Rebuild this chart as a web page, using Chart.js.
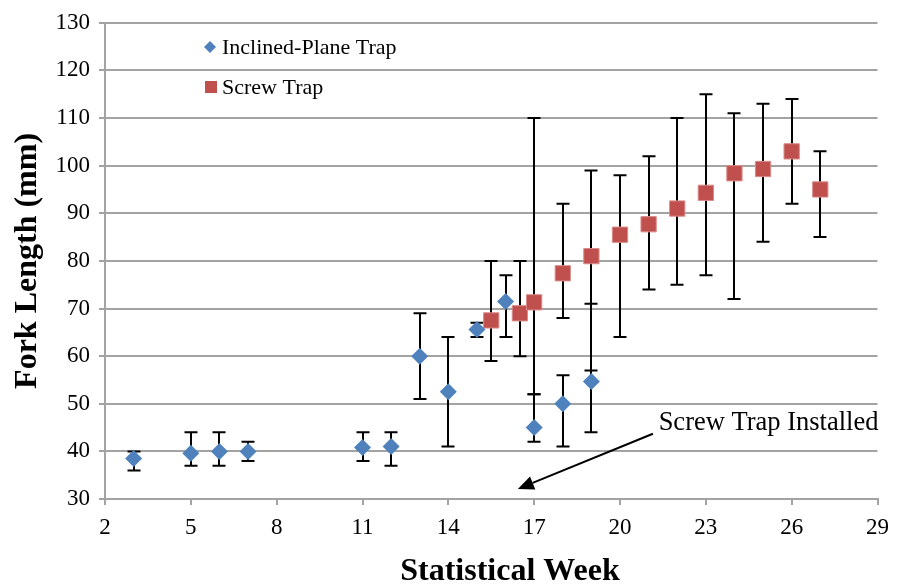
<!DOCTYPE html>
<html>
<head>
<meta charset="utf-8">
<script src="https://cdn.jsdelivr.net/npm/chart.js@4.4.0/dist/chart.umd.min.js"></script>
<style>
  html, body { margin: 0; padding: 0; background: #fff; }
  #wrap { width: 898px; height: 587px; }
</style>
</head>
<body>
<div id="wrap"><canvas id="chart"></canvas></div>
<script>
// Inclined-plane trap (blue diamonds)
const inclinedWeeks = [3, 5, 6, 7, 11, 12, 13, 14, 15, 16, 17, 18, 19];
const inclinedLength = [38.5, 39.6, 40, 40, 40.8, 41, 60, 52.5, 65.6, 71.5, 45, 50, 54.7];
const inclinedLow = [36, 37, 37, 38, 38, 37, 51, 41, 64, 64, 42, 41, 44];
const inclinedHigh = [40, 44, 44, 42, 44, 44, 69, 64, 67, 77, 52, 56, 71];

// Screw trap (red squares)
const screwWeeks = [15.5, 16.5, 17, 18, 19, 20, 21, 22, 23, 24, 25, 26, 27];
const screwLength = [67.5, 69, 71.3, 77.4, 81, 85.5, 87.7, 91, 94.3, 98.4, 99.3, 103, 95];
const screwLow = [59, 60, 52, 68, 57, 64, 74, 75, 77, 72, 84, 92, 85];
const screwHigh = [80, 80, 110, 92, 99, 98, 102, 110, 115, 111, 113, 114, 103];

// axes
const xMin = 2, xMax = 29, xStep = 3;
const yMin = 30, yMax = 130, yStep = 10;
const xTitle = "Statistical Week";
const yTitle = "Fork Length (mm)";

// annotation (data units)
const noteText = "Screw Trap Installed";
const noteAt = [21.35, 46];
const arrowFrom = [21.15, 43.7];
const arrowTo = [16.43, 32.1];

const blue = "#4F81BD";
const red = "#C0504D";
const grid = "#a3a3a3";
const serif = "'Liberation Serif', 'Times New Roman', serif";

const inclinedPts = inclinedWeeks.map((w, i) => ({ x: w, y: inclinedLength[i] }));
const screwPts = screwWeeks.map((w, i) => ({ x: w, y: screwLength[i] }));

// error bars drawn behind the markers
const errorBars = {
  id: "errorBars",
  beforeDatasetsDraw(chart) {
    const { ctx, scales: { x, y } } = chart;
    const sets = [
      [inclinedWeeks, inclinedLow, inclinedHigh],
      [screwWeeks, screwLow, screwHigh],
    ];
    ctx.save();
    ctx.strokeStyle = "#000";
    ctx.lineWidth = 2;
    sets.forEach(([wk, lo, hi]) => {
      wk.forEach((w, i) => {
        const px = Math.round(x.getPixelForValue(w));
        const y1 = y.getPixelForValue(lo[i]);
        const y2 = y.getPixelForValue(hi[i]);
        ctx.beginPath();
        ctx.moveTo(px, y1); ctx.lineTo(px, y2);
        ctx.moveTo(px - 6.5, y1); ctx.lineTo(px + 6.5, y1);
        ctx.moveTo(px - 6.5, y2); ctx.lineTo(px + 6.5, y2);
        ctx.stroke();
      });
    });
    ctx.restore();
  }
};

// legend inside the plot, x title, and the arrow note
const extras = {
  id: "extras",
  afterDraw(chart) {
    const { ctx, scales: { x, y } } = chart;
    ctx.save();
    // legend
    ctx.fillStyle = blue;
    ctx.beginPath();
    ctx.moveTo(210, 41); ctx.lineTo(216, 47); ctx.lineTo(210, 53); ctx.lineTo(204, 47);
    ctx.closePath(); ctx.fill();
    ctx.fillStyle = red;
    ctx.fillRect(205, 81, 12, 12);
    ctx.fillStyle = "#000";
    ctx.font = "22px " + serif;
    ctx.textBaseline = "middle";
    ctx.fillText("Inclined-Plane Trap", 222, 48);
    ctx.fillText("Screw Trap", 222, 88);

    // x axis title (sits a bit right of the axis centre in the original)
    ctx.font = "bold 32px " + serif;
    ctx.textAlign = "center";
    ctx.fillText(xTitle, 510, 572);
    ctx.textAlign = "left";

    // note text
    ctx.font = "26.5px " + serif;
    ctx.fillText(noteText, x.getPixelForValue(noteAt[0]), y.getPixelForValue(noteAt[1]));

    // arrow
    const x1 = x.getPixelForValue(arrowFrom[0]), y1 = y.getPixelForValue(arrowFrom[1]);
    const x2 = x.getPixelForValue(arrowTo[0]), y2 = y.getPixelForValue(arrowTo[1]);
    const ang = Math.atan2(y2 - y1, x2 - x1);
    const head = 16, half = 7;
    const bx = x2 - head * Math.cos(ang), by = y2 - head * Math.sin(ang);
    ctx.strokeStyle = "#000";
    ctx.lineWidth = 2;
    ctx.beginPath();
    ctx.moveTo(x1, y1); ctx.lineTo(bx, by);
    ctx.stroke();
    ctx.beginPath();
    ctx.moveTo(x2, y2);
    ctx.lineTo(bx + half * Math.sin(ang), by - half * Math.cos(ang));
    ctx.lineTo(bx - half * Math.sin(ang), by + half * Math.cos(ang));
    ctx.closePath();
    ctx.fillStyle = "#000";
    ctx.fill();
    ctx.restore();
  }
};

new Chart(document.getElementById("chart"), {
  type: "scatter",
  data: {
    datasets: [
      {
        label: "Inclined-Plane Trap",
        data: inclinedPts,
        pointStyle: "rectRot",
        pointRadius: 8.5,
        backgroundColor: blue,
        borderColor: blue,
        borderWidth: 0,
      },
      {
        label: "Screw Trap",
        data: screwPts,
        pointStyle: "rect",
        pointRadius: 10.8,
        backgroundColor: red,
        borderColor: "#d98c8a",
        borderWidth: 1,
      },
    ],
  },
  options: {
    responsive: true,
    maintainAspectRatio: false,
    animation: false,
    layout: { padding: { top: 17, right: 13, left: 0, bottom: 0 } },
    plugins: {
      legend: { display: false },
      tooltip: { enabled: false },
    },
    scales: {
      x: {
        type: "linear",
        min: xMin,
        max: xMax,
        afterFit: (s) => { s.height = 88; },
        ticks: {
          stepSize: xStep,
          color: "#000",
          padding: 9,
          font: { family: serif, size: 23 },
        },
        grid: { drawOnChartArea: false, drawTicks: true, tickLength: 6, color: grid, lineWidth: 2 },
        border: { color: grid, width: 2 },
      },
      y: {
        min: yMin,
        max: yMax,
        afterFit: (s) => { s.width = 105; },
        ticks: {
          stepSize: yStep,
          color: "#000",
          padding: 9,
          font: { family: serif, size: 23 },
        },
        grid: { color: grid, lineWidth: 2, tickLength: 6 },
        border: { color: grid, width: 2 },
        title: {
          display: true,
          text: yTitle,
          color: "#000",
          font: { family: serif, size: 32, weight: "bold", lineHeight: 1.2 },
          padding: { top: 9, bottom: 0 },
        },
      },
    },
  },
  plugins: [errorBars, extras],
});
</script>
</body>
</html>
